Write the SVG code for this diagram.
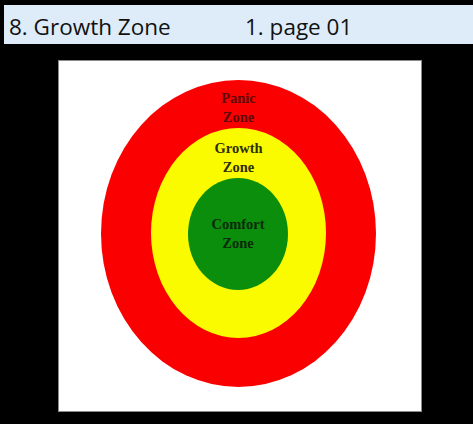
<svg xmlns="http://www.w3.org/2000/svg" width="473" height="424" viewBox="0 0 473 424">
<style>
.hdr{font-family:"Open Sans","Noto Sans",sans-serif;font-size:22.5px;fill:#111}
.zone{font-family:"Liberation Serif","Times New Roman",serif;font-size:14.5px;font-weight:bold;text-anchor:middle}
</style>
<rect x="0" y="0" width="473" height="424" fill="#000"/>
<g id="header">
<rect x="4" y="5" width="469" height="39" fill="#deecfa"/>
<text class="hdr" x="9" y="35">8. Growth Zone</text>
<text class="hdr" x="245" y="35">1. page 01</text>
</g>
<g id="picture">
<rect x="58.5" y="60.5" width="363" height="351" fill="#fff" stroke="#8a8a8a" stroke-width="1"/>
</g>
<g id="panic-zone">
<ellipse cx="238.5" cy="233.5" rx="137.5" ry="153.5" fill="#fb0000"/>
<text class="zone" fill="#5c0808" x="238.5" y="103">Panic</text>
<text class="zone" fill="#5c0808" x="238.5" y="122">Zone</text>
</g>
<g id="growth-zone">
<ellipse cx="238.5" cy="233" rx="87.5" ry="105" fill="#fbfb00"/>
<text class="zone" fill="#2e2e08" x="238.5" y="153">Growth</text>
<text class="zone" fill="#2e2e08" x="238.5" y="172">Zone</text>
</g>
<g id="comfort-zone">
<ellipse cx="238" cy="234" rx="50" ry="56" fill="#0b8e0b"/>
<text class="zone" fill="#0a2a0a" x="238" y="229">Comfort</text>
<text class="zone" fill="#0a2a0a" x="238" y="248">Zone</text>
</g>
<g id="connectors"/>
</svg>
